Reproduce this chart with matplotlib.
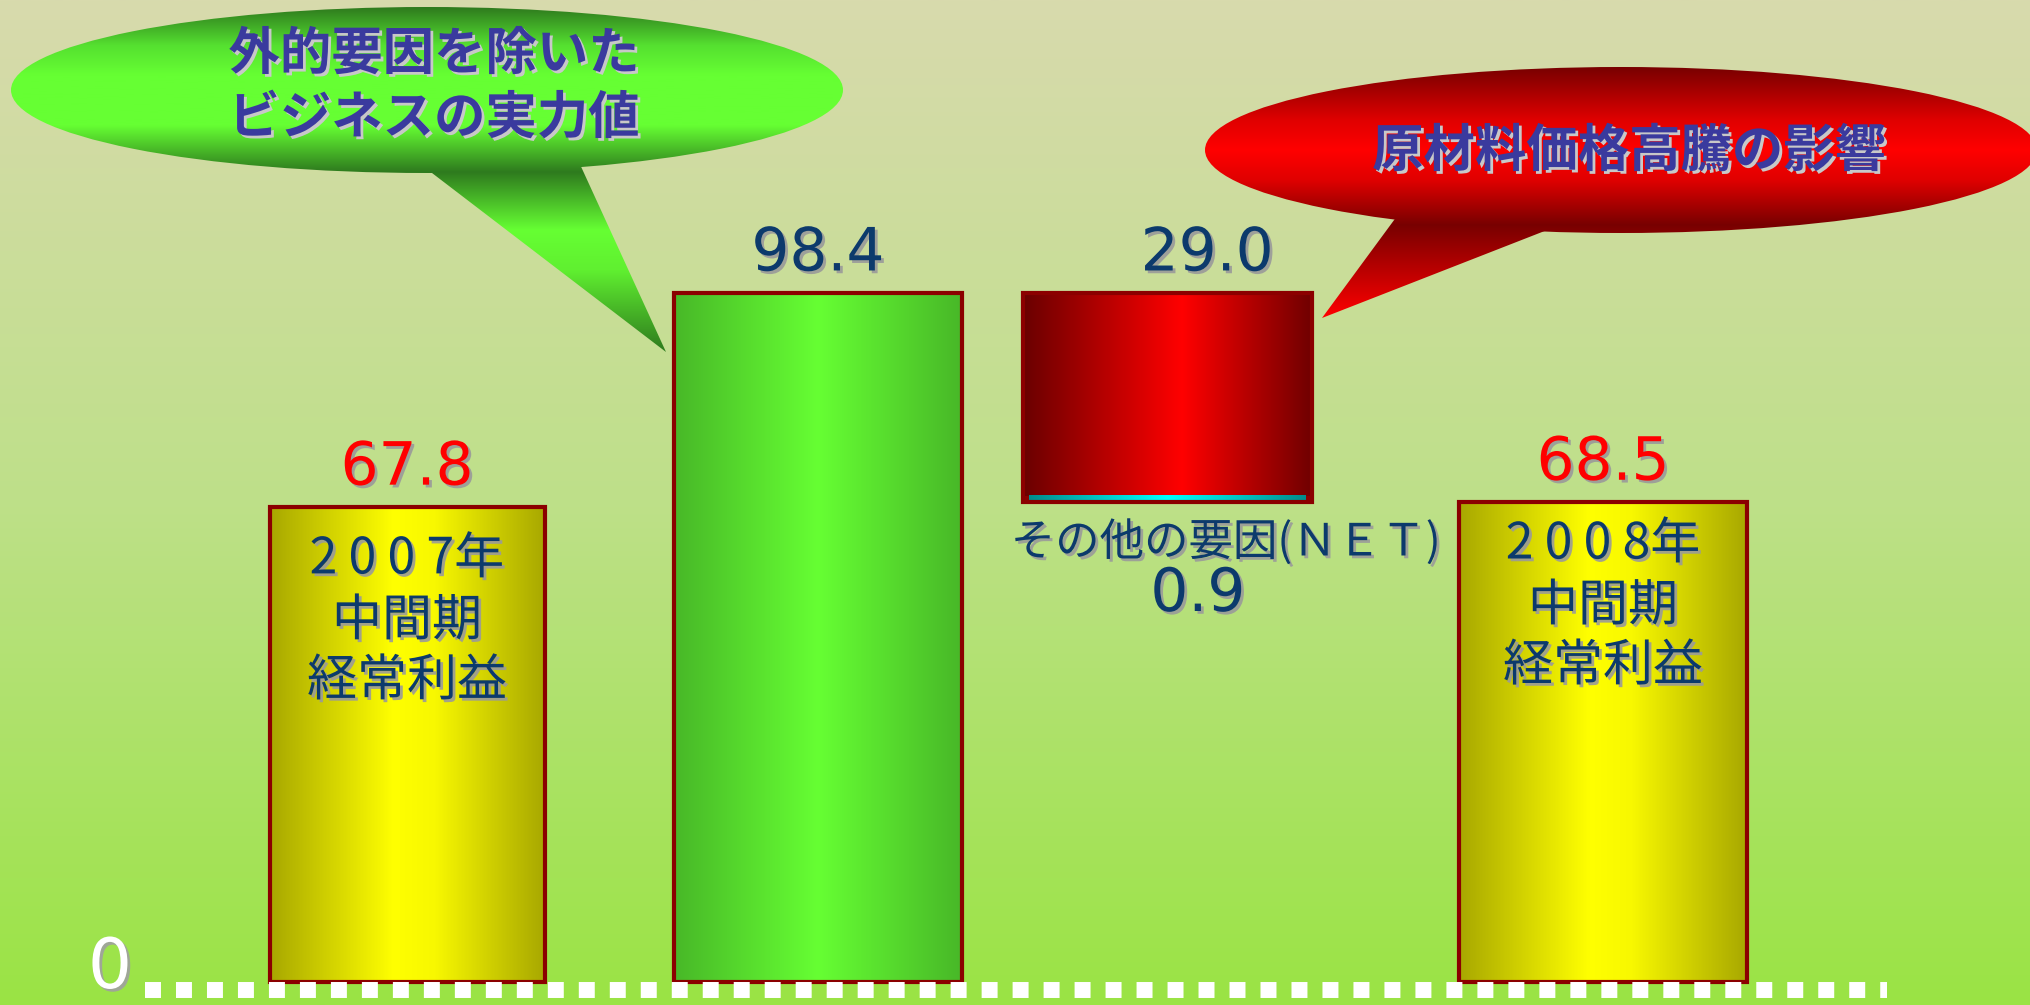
import numpy as np
import matplotlib
matplotlib.use('Agg')
from matplotlib import pyplot as plt
from matplotlib.colors import LinearSegmentedColormap, to_rgb
from matplotlib.patches import Ellipse, Polygon, Rectangle
import matplotlib.patheffects as pe

# 経常利益の増減 (億円)
start_value = 67.8       # 2007年中間期
business_value = 98.4    # 外的要因を除いた実力値
material_impact = 29.0   # 原材料価格高騰の影響
other_net = 0.9          # その他の要因(NET)
end_value = 68.5         # 2008年中間期

start_label = ['2 0 0 7年', '中間期', '経常利益']
end_label = ['2 0 0 8年', '中間期', '経常利益']
other_label = 'その他の要因(ＮＥＴ)'
green_note = ['外的要因を除いた', 'ビジネスの実力値']
red_note = '原材料価格高騰の影響'

# layout (pixels)
W, H = 2031, 1005
BASE = 982
PX = 7.0
centers = [407, 818, 1167, 1603]
widths = [275, 288, 289, 288]

JP = ['Noto Sans CJK JP', 'DejaVu Sans']
NAVY = '#0C3A6C'
EDGE = '#8B0000'

fig = plt.figure(figsize=(W / 100, H / 100), dpi=100)

# background + callouts drawn in pixel coords
bg = fig.add_axes([0, 0, 1, 1])
bg.set_xlim(0, W)
bg.set_ylim(H, 0)
bg.axis('off')

def vgrad(stops, n=400):
    ys = np.array([s[0] for s in stops], float)
    cols = np.array([to_rgb(s[1]) for s in stops])
    yy = np.linspace(ys[0], ys[-1], n)
    img = np.stack([np.interp(yy, ys, cols[:, k]) for k in range(3)], axis=1)
    return img[:, None, :], ys[0], ys[-1]

img, y0, y1 = vgrad([(0, '#D8DAAD'), (500, '#BEE089'), (H, '#9AE444')])
bg.imshow(img, extent=(0, W, y1, y0), aspect='auto', zorder=0)

ax = fig.add_axes([0, 0, 1, 1])
ax.patch.set_visible(False)
ax.axis('off')

def hgrad_bar(x0, x1, y0, y1, colors, z=2):
    cmap = LinearSegmentedColormap.from_list('g', colors)
    ax.imshow(np.linspace(0, 1, 256)[None, :], cmap=cmap, aspect='auto',
              extent=(x0, x1, y0, y1), zorder=z)

yellow = [(0, '#A8A800'), (0.45, '#FFFF00'), (0.6, '#F8F800'), (1, '#A8A800')]
green = [(0, '#48B828'), (0.5, '#66FF33'), (1, '#48B828')]
red = [(0, '#6A0000'), (0.55, '#FF0000'), (1, '#700000')]
cyan = [(0, '#008C8C'), (0.5, '#00FFFF'), (1, '#008C8C')]

shadow = [pe.withSimplePatchShadow(offset=(2, -2), shadow_rgbFace='#9A9A9A', alpha=0.9)]

def frame(cx, w, lo, hi):
    ax.add_patch(Rectangle((cx - w / 2, lo), w, hi - lo, fill=False,
                           edgecolor=EDGE, linewidth=3, zorder=4))

def value_label(cx, top, text, color, dx=0):
    ax.annotate(text, xy=(cx, top), xytext=(dx, 7), textcoords='offset points',
                ha='center', va='bottom', fontsize=43, color=color,
                fontfamily='DejaVu Sans', path_effects=shadow, zorder=6)

# 2007年
cx, w = centers[0], widths[0]
hgrad_bar(cx - w / 2, cx + w / 2, 0, start_value, yellow)
frame(cx, w, 0, start_value)
value_label(cx, start_value, f'{start_value:.1f}', '#FF0000')
for line, d in zip(start_label, [52, 114, 174]):
    ax.text(cx, start_value - d / PX, line, ha='center', va='center', fontsize=36,
            color=NAVY, family=JP, path_effects=shadow, zorder=6)

# 実力値
cx, w = centers[1], widths[1]
hgrad_bar(cx - w / 2, cx + w / 2, 0, business_value, green)
frame(cx, w, 0, business_value)
value_label(cx, business_value, f'{business_value:.1f}', NAVY)

# 原材料 / その他
cx, w = centers[2], widths[2]
red_lo = business_value - material_impact
net_lo = red_lo - other_net
hgrad_bar(cx - w / 2, cx + w / 2, red_lo, business_value, red)
ax.add_patch(Rectangle((cx - w / 2, net_lo), w, other_net, color=EDGE, zorder=1.9))
hgrad_bar(cx - w / 2 + 6, cx + w / 2 - 6, net_lo, red_lo, cyan, z=3)
frame(cx, w, net_lo, business_value)
value_label(cx, business_value, f'{material_impact:.1f}', NAVY, dx=29)
ax.text(cx + 59, net_lo - 40 / PX, other_label, ha='center', va='center', fontsize=32,
        color=NAVY, family=JP, path_effects=shadow, zorder=6)
ax.text(cx + 31, net_lo - 92 / PX, f'{other_net:.1f}', ha='center', va='center',
        fontsize=43, color=NAVY, family='DejaVu Sans', path_effects=shadow, zorder=6)

# 2008年
cx, w = centers[3], widths[3]
hgrad_bar(cx - w / 2, cx + w / 2, 0, end_value, yellow)
frame(cx, w, 0, end_value)
value_label(cx, end_value, f'{end_value:.1f}', '#FF0000')
for line, d in zip(end_label, [42, 104, 164]):
    ax.text(cx, end_value - d / PX, line, ha='center', va='center', fontsize=36,
            color=NAVY, family=JP, path_effects=shadow, zorder=6)

# dotted zero line and "0"
ax.plot([145, 1887], [-8 / PX, -8 / PX], color='white', linewidth=11.5,
        dashes=(1, 0.94), solid_capstyle='butt', dash_capstyle='butt', zorder=5)
ax.text(110, -20 / PX, '0', ha='center', va='bottom', fontsize=50, color='white',
        family='DejaVu Sans',
        path_effects=[pe.withSimplePatchShadow(offset=(2, -2), shadow_rgbFace='#A0A0A0', alpha=0.9)],
        zorder=6)

ax.set_xlim(0, W)
ax.set_ylim((BASE - H) / PX, BASE / PX)

# callout bubbles
def bubble(center, size, tail, stops):
    img, y0, y1 = vgrad(stops)
    shapes = [Ellipse(center, size[0], size[1]), Polygon(tail, closed=True)]
    for shp in shapes:
        shp.set_facecolor('none')
        shp.set_edgecolor('none')
        bg.add_patch(shp)
        im = bg.imshow(img, extent=(0, W, y1, y0), aspect='auto', zorder=2)
        im.set_clip_path(shp)

bubble((427, 90), (832, 166), [(415, 160), (578, 160), (666, 352)],
       [(7, '#2E7A1E'), (45, '#55E030'), (75, '#66FF33'), (125, '#66FF33'),
        (172, '#2E7A1E'), (230, '#66FF33'), (270, '#60F030'), (352, '#2E7A1E')])
bubble((1621, 150), (832, 166), [(1400, 212), (1560, 225), (1322, 318)],
       [(67, '#780000'), (120, '#E00000'), (150, '#FF0000'), (180, '#E00000'),
        (225, '#780000'), (318, '#FF0000')])

note_fx = [pe.withSimplePatchShadow(offset=(2, -2), shadow_rgbFace='#C8C8C8', alpha=1.0)]
for line, y in zip(green_note, [54, 118]):
    bg.text(434, y, line, ha='center', va='center', fontsize=37, color='#3A3A9E',
            family=JP, weight='bold', path_effects=note_fx, zorder=4)
bg.text(1629, 151, red_note, ha='center', va='center', fontsize=37, color='#3A3A9E',
        family=JP, weight='bold', path_effects=note_fx, zorder=4)

bg.set_xlim(0, W)
bg.set_ylim(H, 0)

plt.savefig('out.png', dpi=100)
